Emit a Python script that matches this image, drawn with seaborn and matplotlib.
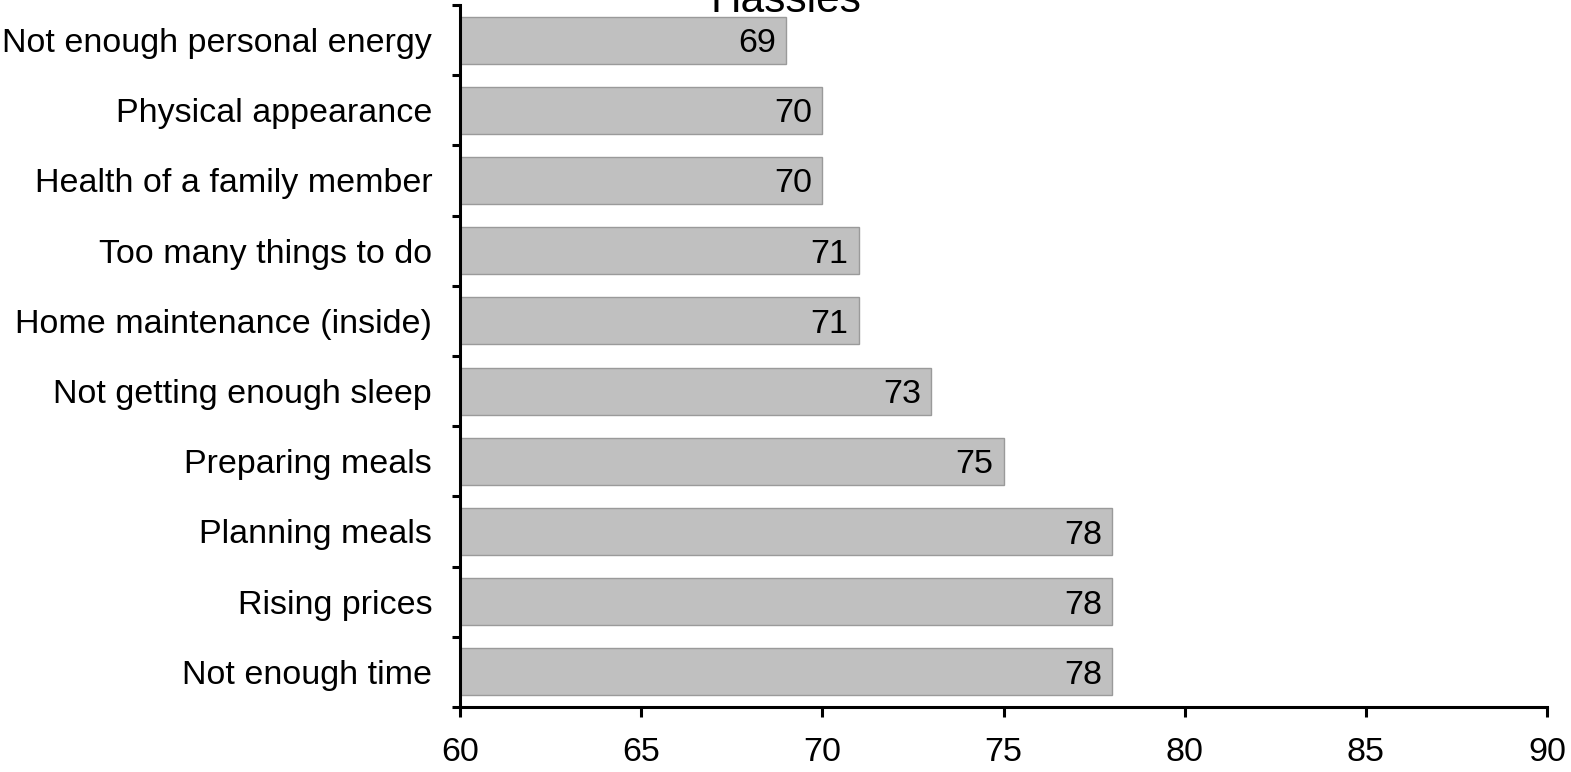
import matplotlib
matplotlib.use("Agg")
import matplotlib.pyplot as plt
import seaborn as sns
import pandas as pd
from matplotlib.ticker import MultipleLocator, FixedLocator

categories = [
    "Not enough personal energy",
    "Physical appearance",
    "Health of a family member",
    "Too many things to do",
    "Home maintenance (inside)",
    "Not getting enough sleep",
    "Preparing meals",
    "Planning meals",
    "Rising prices",
    "Not enough time",
]
values = [69, 70, 70, 71, 71, 73, 75, 78, 78, 78]
title = "Hassles"

sns.set_theme(style="white")
plt.rcParams['font.family'] = ['Liberation Sans', 'DejaVu Sans']

df = pd.DataFrame({"category": categories, "value": values})

fig = plt.figure(figsize=(15.71, 7.72), dpi=100)
ax = fig.add_axes([460/1571, 1-707/772, (1547-460)/1571, (707-5)/772])

sns.barplot(data=df, y="category", x="value", orient="h", ax=ax,
            color="#c0c0c0", saturation=1, width=0.67,
            edgecolor="#9a9a9a", linewidth=1.0)

ax.set_xlim(60, 90)
ax.set_ylim(len(categories) - 0.5, -0.5)
ax.xaxis.set_major_locator(MultipleLocator(5))
ax.set_xlabel("")
ax.set_ylabel("")

FS = 24.5
# y ticks at category boundaries
ax.yaxis.set_major_locator(FixedLocator(list(range(len(categories)))))
ax.set_yticklabels(categories)
ax.tick_params(axis='y', which='major', length=0, labelsize=FS, pad=20, colors='black')
ax.yaxis.set_minor_locator(FixedLocator([i - 0.5 for i in range(len(categories) + 1)]))
ax.tick_params(axis='y', which='minor', left=True, length=6, width=2.2, color='black')
ax.tick_params(axis='x', which='major', bottom=True, length=7.5, width=2.2,
               labelsize=FS, pad=14, colors='black')

for s in ["top", "right"]:
    ax.spines[s].set_visible(False)
for s in ["left", "bottom"]:
    ax.spines[s].set_color("black")
    ax.spines[s].set_linewidth(2.2)

for i, v in enumerate(values):
    ax.annotate(f"{v}", xy=(v, i), xytext=(-10, 0), textcoords="offset pixels",
                ha="right", va="center_baseline", fontsize=FS, color="black")

fig.text(0.5, 1 - 12/772, title, ha="center", va="baseline", fontsize=30.5, color="black")

fig.savefig("out.png", dpi=100)
